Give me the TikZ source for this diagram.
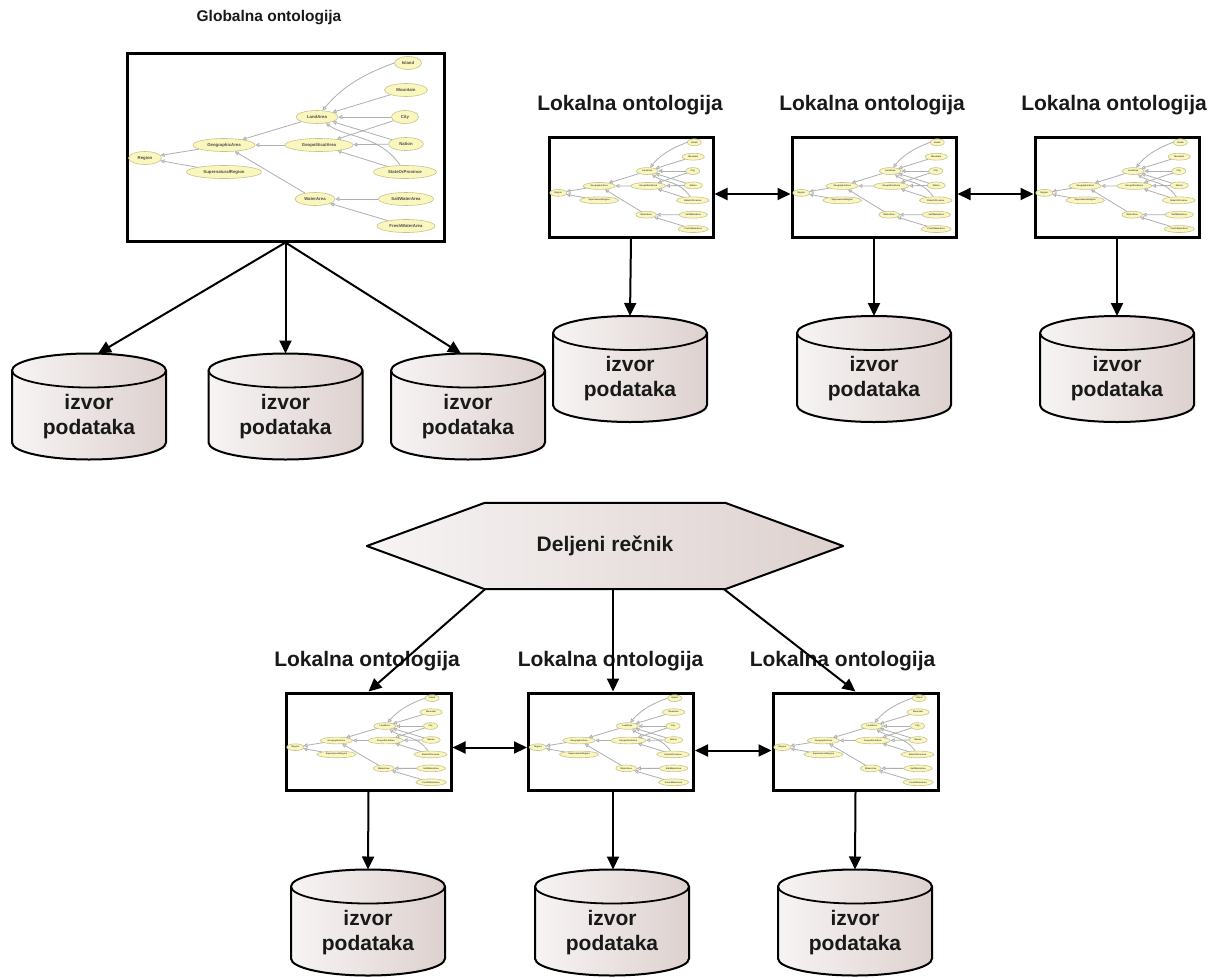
\documentclass[tikz,border=0pt]{standalone}
\usepackage{fontspec}
\setmainfont{Liberation Sans}
\usetikzlibrary{arrows.meta, backgrounds, shapes.geometric}

\definecolor{cylL}{RGB}{247,244,244}
\definecolor{cylR}{RGB}{221,209,207}
\definecolor{ontoFill}{RGB}{250,247,190}
\definecolor{ontoLine}{RGB}{200,195,140}
\definecolor{edgeGray}{RGB}{175,175,175}
\definecolor{txt}{RGB}{25,25,25}

\tikzset{
  x=1pt, y=1pt,
  arr/.style={line width=2pt, -{Triangle[length=13pt,width=12pt]}},
  biarr/.style={line width=2pt, {Triangle[length=13pt,width=12pt]}-{Triangle[length=13pt,width=12pt]}},
  ontobox/.style={draw, line width=3pt, fill=white, inner sep=0pt},
  gtitle/.style={font=\bfseries\fontsize{15.5}{18}\selectfont, text=txt, inner sep=0pt},
  ltitle/.style={font=\bfseries\fontsize{21}{25}\selectfont, text=txt, inner sep=0pt},
  cyltxt/.style={font=\bfseries\fontsize{21}{25}\selectfont, text=txt, align=center, inner sep=0pt},
  onode/.style={ellipse, draw=ontoLine, line width=0.6pt, fill=ontoFill, inner sep=0pt,
                minimum height=13pt, font=\bfseries\fontsize{4.3}{5}\selectfont, text=black!70},
  oedge/.style={draw=edgeGray, line width=0.8pt, -{Triangle[open, length=4pt, width=4pt, fill=white]}},
  dbcyl/.pic={
    \shadedraw[left color=cylL, right color=cylR, draw=black, line width=2pt]
      (-77,36) -- (-77,-36) arc[start angle=180,end angle=360,x radius=77,y radius=17]
      -- (77,36) arc[start angle=0,end angle=180,x radius=77,y radius=17] -- cycle;
    \draw[line width=1.8pt] (-77,36) arc[start angle=180,end angle=360,x radius=77,y radius=17];
    \node[cyltxt] (-t) at (0,-10) {izvor\\podataka};
    \coordinate (-top) at (0,53);
  },
  ontograph/.pic={
    \node[onode, minimum width=33pt] (-region) at (18,-105) {Region};
    \node[onode, minimum width=62pt] (-geo) at (97,-92) {GeographicArea};
    \node[onode, minimum width=75pt] (-super) at (97,-119) {SupernaturalRegion};
    \node[onode, minimum width=42pt] (-land) at (190,-64) {LandArea};
    \node[onode, minimum width=68pt] (-geopol) at (192,-92) {GeopoliticalArea};
    \node[onode, minimum width=40pt] (-water) at (188,-146) {WaterArea};
    \node[onode, minimum width=27pt] (-island) at (281,-10) {Island};
    \node[onode, minimum width=43pt] (-mountain) at (279,-37) {Mountain};
    \node[onode, minimum width=27pt] (-city) at (278,-64) {City};
    \node[onode, minimum width=35pt] (-nation) at (279,-91) {Nation};
    \node[onode, minimum width=63pt] (-state) at (278,-119) {StateOrProvince};
    \node[onode, minimum width=55pt] (-salt) at (279,-146) {SaltWaterArea};
    \node[onode, minimum width=58pt] (-fresh) at (279,-173) {FreshWaterArea};
    \draw[oedge] (-geo) -- (-region);
    \draw[oedge] (-super) -- (-region);
    \draw[oedge] (-land) -- (-geo);
    \draw[oedge] (-geopol) -- (-geo);
    \draw[oedge] (-water) -- (-geo);
    \draw[oedge] (-island.west) to[out=200,in=50] (-land);
    \draw[oedge] (-mountain) -- (-land);
    \draw[oedge] (-city) -- (-land);
    \draw[oedge] (-nation) -- (-land);
    \draw[oedge] (-state) to[out=125,in=-35] (-land);
    \draw[oedge] (-city) -- (-geopol);
    \draw[oedge] (-nation) -- (-geopol);
    \draw[oedge] (-state) -- (-geopol);
    \draw[oedge] (-salt) -- (-water);
    \draw[oedge] (-fresh) -- (-water);
  },
}

\begin{document}
\begin{tikzpicture}
\useasboundingbox (0,0) rectangle (1220,-977);

% ---------- global ontology ----------
\node[gtitle] (gt) at (269,-18) {Globalna ontologija};
\node[ontobox, minimum width=317pt, minimum height=188pt] (gbox) at (285.5,-147) {};
\pic (gg) at (127,-53) {ontograph};

\pic (c11) at (89,-406.5) {dbcyl};
\pic (c12) at (285.5,-406.5) {dbcyl};
\pic (c13) at (468,-406.5) {dbcyl};

\draw[arr] (gbox.south) -- ([xshift=9pt]c11-top);
\draw[arr] (gbox.south) -- (c12-top);
\draw[arr] (gbox.south) -- ([xshift=-7pt]c13-top);

% ---------- top right: local ontologies ----------
\node[ltitle] (t21) at (630,-105) {Lokalna ontologija};
\node[ltitle] (t22) at (872,-105) {Lokalna ontologija};
\node[ltitle] (t23) at (1114,-105) {Lokalna ontologija};

\node[ontobox, minimum width=164pt, minimum height=100pt] (lb1) at (631,-187) {};
\node[ontobox, minimum width=164pt, minimum height=100pt] (lb2) at (874,-187) {};
\node[ontobox, minimum width=164pt, minimum height=100pt] (lb3) at (1117,-187) {};
\pic[xscale=0.517, yscale=0.532, transform shape] (lg1) at (549,-137) {ontograph};
\pic[xscale=0.517, yscale=0.532, transform shape] (lg2) at (792,-137) {ontograph};
\pic[xscale=0.517, yscale=0.532, transform shape] (lg3) at (1035,-137) {ontograph};

\draw[biarr] ([yshift=-7pt]lb1.east) -- ([yshift=-7pt]lb2.west);
\draw[biarr] ([yshift=-7pt]lb2.east) -- ([yshift=-7pt]lb3.west);

\pic (c21) at (630,-369) {dbcyl};
\pic (c22) at (874,-369) {dbcyl};
\pic (c23) at (1117,-369) {dbcyl};

\draw[arr] (lb1.south) -- (c21-top);
\draw[arr] (lb2.south) -- (c22-top);
\draw[arr] (lb3.south) -- (c23-top);

% ---------- shared vocabulary ----------
\node[minimum width=476pt, minimum height=86pt, inner sep=0pt,
      font=\bfseries\fontsize{21}{25}\selectfont, text=txt] (hex) at (605,-546) {Deljeni rečnik};
\begin{scope}[on background layer]
  \shadedraw[left color=cylL, right color=cylR, draw=black, line width=2pt, line join=round]
    (hex.west) -- ([xshift=118pt]hex.north west) -- ([xshift=-118pt]hex.north east)
    -- (hex.east) -- ([xshift=-118pt]hex.south east) -- ([xshift=118pt]hex.south west) -- cycle;
\end{scope}

\node[ltitle] (t31) at (367,-661) {Lokalna ontologija};
\node[ltitle] (t32) at (610.5,-661) {Lokalna ontologija};
\node[ltitle] (t33) at (842.5,-661) {Lokalna ontologija};

\node[ontobox, minimum width=165pt, minimum height=97pt] (bb1) at (368.5,-741.5) {};
\node[ontobox, minimum width=165pt, minimum height=97pt] (bb2) at (611,-741.5) {};
\node[ontobox, minimum width=165pt, minimum height=97pt] (bb3) at (855.5,-741.5) {};
\pic[xscale=0.52, yscale=0.516, transform shape] (bg1) at (286,-693) {ontograph};
\pic[xscale=0.52, yscale=0.516, transform shape] (bg2) at (528.5,-693) {ontograph};
\pic[xscale=0.52, yscale=0.516, transform shape] (bg3) at (773,-693) {ontograph};

\draw[arr] ([xshift=-120pt]hex.south) -- (bb1.north);
\draw[arr] ([xshift=8pt]hex.south) -- ([xshift=2pt]bb2.north);
\draw[arr] ([xshift=119pt]hex.south) -- (bb3.north);

\draw[biarr] ([yshift=-6pt]bb1.east) -- ([yshift=-6pt]bb2.west);
\draw[biarr] ([yshift=-9pt]bb2.east) -- ([yshift=-9pt]bb3.west);

\pic (c31) at (368,-922.5) {dbcyl};
\pic (c32) at (612,-922.5) {dbcyl};
\pic (c33) at (855,-922.5) {dbcyl};

\draw[arr] (bb1.south) -- (c31-top);
\draw[arr] ([xshift=2pt]bb2.south) -- ([xshift=1pt]c32-top);
\draw[arr] (bb3.south) -- (c33-top);
\end{tikzpicture}
\end{document}
